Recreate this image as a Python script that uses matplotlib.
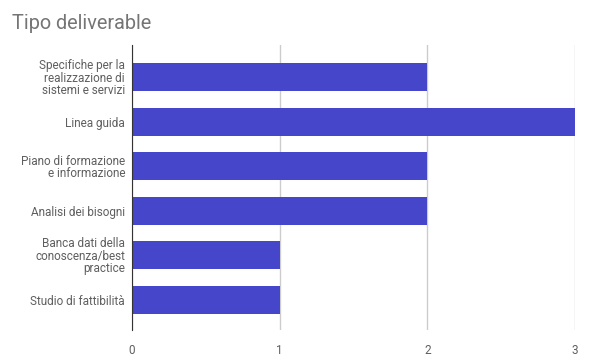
import matplotlib
matplotlib.use('Agg')
import matplotlib.pyplot as plt

plt.rcParams['font.family'] = ['Roboto', 'DejaVu Sans']

categories = [
    'Specifiche per la\nrealizzazione di\nsistemi e servizi',
    'Linea guida',
    'Piano di formazione\ne informazione',
    'Analisi dei bisogni',
    'Banca dati della\nconoscenza/best\npractice',
    'Studio di fattibilità',
]
values = [2, 3, 2, 2, 1, 1]
xticks = [0, 1, 2, 3]

fig = plt.figure(figsize=(5.89, 3.62), dpi=100)
ax = fig.add_axes([0.2241, 0.0884, 0.7521, 0.7873])

pos = list(range(len(categories)))
ax.barh(pos, values, height=0.63, color='#4646cb', zorder=3)

ax.set_ylim(5.68, -0.72)
ax.set_xlim(0, 3)
ax.set_yticks(pos)
ax.set_yticklabels(categories, fontsize=8.5, color='#5f5f5f', linespacing=0.95)
ax.set_xticks(xticks)
ax.set_xticklabels([str(v) for v in xticks], fontsize=8.5, color='#5f5f5f')
ax.tick_params(length=0)
ax.tick_params(axis='y', pad=5)
ax.tick_params(axis='x', pad=10)

ax.grid(axis='x', color='#cccccc', linewidth=1, zorder=0)
for s in ['top', 'right', 'bottom']:
    ax.spines[s].set_visible(False)
ax.spines['left'].set_color('#333333')
ax.spines['left'].set_zorder(4)

fig.text(0.02, 0.935, 'Tipo deliverable', fontsize=14.3, color='#757575', va='center')

fig.savefig('out.png', dpi=100)
